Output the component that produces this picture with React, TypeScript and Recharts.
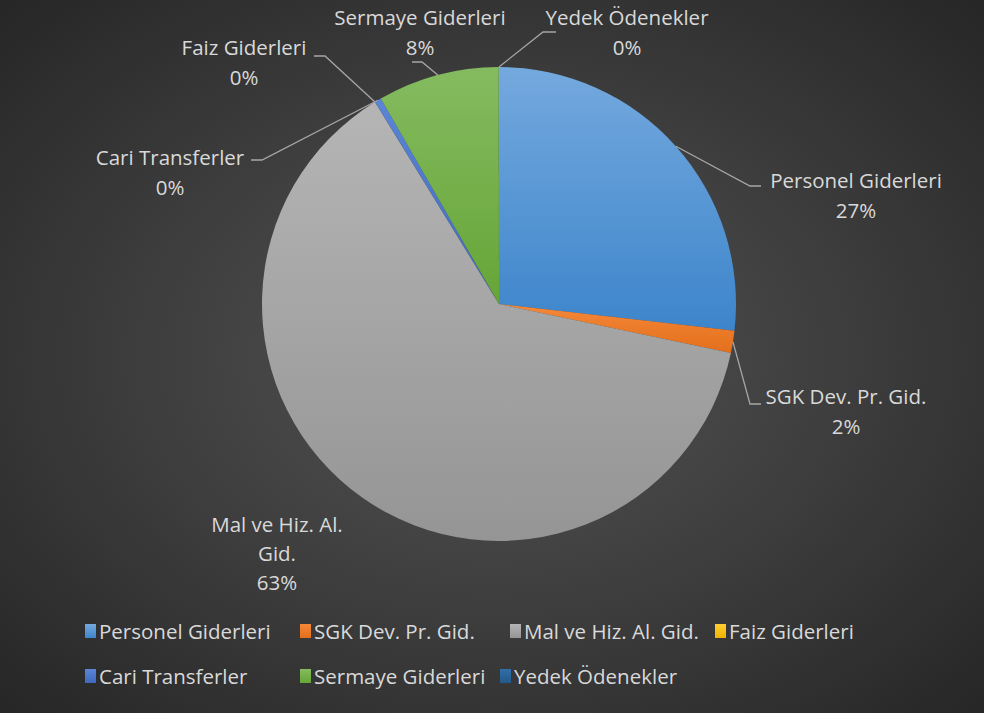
import { PieChart, Pie, Cell, Legend } from 'recharts';

const CATEGORIES = [
  'Personel Giderleri',
  'SGK Dev. Pr. Gid.',
  'Mal ve Hiz. Al. Gid.',
  'Faiz Giderleri',
  'Cari Transferler',
  'Sermaye Giderleri',
  'Yedek Ödenekler',
];
// share of total spending, %
const SHARES = [26.8, 1.5, 62.9, 0.01, 0.45, 8.3, 0.01];

const COLORS_TOP = ['#74a9de', '#f4883a', '#b5b5b5', '#ffcd33', '#5b85d6', '#85bb60', '#3070a8'];
const COLORS_BOTTOM = ['#3d85cb', '#e36f1a', '#959595', '#f0b400', '#3e69c0', '#66a537', '#22598a'];

const data = CATEGORIES.map((name, i) => ({ name, value: SHARES[i] }));

// pie centre inside the plot area (chart margin is 5px)
const CX = 494;
const CY = 299;
const R = 237;
const TEXT = '#d9d9d9';
const LEADER = '#a6a6a6';
const FONT = '"Open Sans", Lato, sans-serif';
const FONT_SIZE = 20.5;

// label placement relative to pie centre (Excel "best fit" positions)
const LABEL_LAYOUT: Record<string, { elbow?: [number, number]; end?: [number, number]; text: [number, number]; lines: string[] }> = {
  'Personel Giderleri': { elbow: [251, -118], end: [262, -118], text: [357, -124], lines: ['Personel Giderleri'] },
  'SGK Dev. Pr. Gid.': { elbow: [251, 100], end: [262, 100], text: [347, 92], lines: ['SGK Dev. Pr. Gid.'] },
  'Mal ve Hiz. Al. Gid.': { text: [-222, 220], lines: ['Mal ve Hiz. Al.', 'Gid.'] },
  'Faiz Giderleri': { elbow: [-174, -248], end: [-185, -248], text: [-255, -257], lines: ['Faiz Giderleri'] },
  'Cari Transferler': { elbow: [-237, -144], end: [-248, -144], text: [-329, -147], lines: ['Cari Transferler'] },
  'Sermaye Giderleri': { elbow: [-77, -242], end: [-87, -242], text: [-79, -287], lines: ['Sermaye Giderleri'] },
  'Yedek Ödenekler': { elbow: [44, -272], end: [57, -272], text: [128, -287], lines: ['Yedek Ödenekler'] },
};

const RADIAN = Math.PI / 180;

const renderLabel = (props: any) => {
  const { cx, cy, midAngle, outerRadius, name, percent } = props;
  const layout = LABEL_LAYOUT[name];
  if (!layout) return null;
  const sx = cx + outerRadius * Math.cos(-midAngle * RADIAN);
  const sy = cy + outerRadius * Math.sin(-midAngle * RADIAN);
  const lines = [...layout.lines, `${Math.round(percent * 100)}%`];
  const lh = lines.length > 2 ? 29 : 30;
  return (
    <g>
      {layout.elbow && layout.end && (
        <polyline
          points={`${sx},${sy} ${cx + layout.elbow[0]},${cy + layout.elbow[1]} ${cx + layout.end[0]},${cy + layout.end[1]}`}
          fill="none"
          stroke={LEADER}
          strokeWidth={1.3}
        />
      )}
      {lines.map((t, i) => (
        <text
          key={i}
          x={cx + layout.text[0]}
          y={cy + layout.text[1] + i * lh}
          fill={TEXT}
          fontSize={FONT_SIZE}
          fontFamily={FONT}
          textAnchor="middle"
          dominantBaseline="central"
        >
          {t}
        </text>
      ))}
    </g>
  );
};

// legend column widths per row
const LEGEND_ROWS = [
  [0, 1, 2, 3],
  [4, 5, 6],
];
const LEGEND_WIDTHS = [
  [215, 210, 205, 160],
  [215, 200, 200],
];

const renderLegend = () => (
  <div style={{ fontFamily: FONT, fontSize: FONT_SIZE, color: TEXT }}>
    {LEGEND_ROWS.map((row, r) => (
      <div key={r} style={{ display: 'flex', height: 45, alignItems: 'center' }}>
        {row.map((idx, c) => (
          <div key={idx} style={{ width: LEGEND_WIDTHS[r][c], display: 'flex', alignItems: 'center', whiteSpace: 'nowrap' }}>
            <span
              style={{
                display: 'inline-block',
                width: 11,
                height: 14,
                marginRight: 3,
                background: `linear-gradient(${COLORS_TOP[idx]}, ${COLORS_BOTTOM[idx]})`,
              }}
            />
            <span>{CATEGORIES[idx]}</span>
          </div>
        ))}
      </div>
    ))}
  </div>
);

export default function App() {
  return (
    <div
      style={{
        position: 'absolute',
        left: 0,
        top: 0,
        width: 984,
        height: 713,
        background: 'radial-gradient(ellipse at 50% 50%, #525252 0%, #404040 45%, #262626 100%)',
      }}
    >
      <PieChart width={984} height={713}>
        <defs>
          {CATEGORIES.map((_, i) => (
            <linearGradient key={i} id={`grad${i}`} x1="0" y1="0" x2="0" y2="1">
              <stop offset="0%" stopColor={COLORS_TOP[i]} />
              <stop offset="100%" stopColor={COLORS_BOTTOM[i]} />
            </linearGradient>
          ))}
        </defs>
        <Pie
          data={data}
          dataKey="value"
          nameKey="name"
          cx={CX}
          cy={CY}
          outerRadius={R}
          startAngle={90}
          endAngle={-270}
          stroke="none"
          label={renderLabel}
          labelLine={false}
          isAnimationActive={false}
        >
          {data.map((d, i) => (
            <Cell key={d.name} fill={`url(#grad${i})`} />
          ))}
        </Pie>
        <Legend
          content={renderLegend}
          wrapperStyle={{ position: 'absolute', left: 85, top: 608, width: 900 }}
        />
      </PieChart>
    </div>
  );
}
